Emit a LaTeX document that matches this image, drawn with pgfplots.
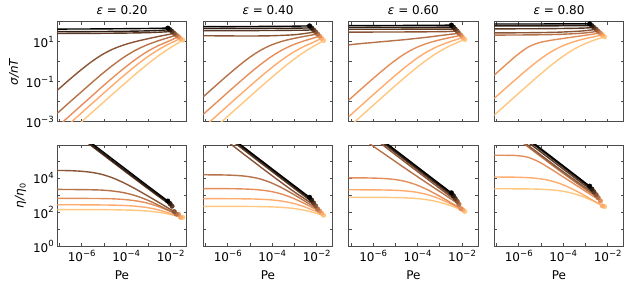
\documentclass[border=0pt]{standalone}
\usepackage{fontspec}
\setmainfont{DejaVu Sans}
\usepackage{pgfplots}
\pgfplotsset{compat=1.18}
\definecolor{cp0}{rgb}{0,0,0}
\definecolor{cp1}{rgb}{0.179,0.112,0.071}
\definecolor{cp2}{rgb}{0.357,0.223,0.142}
\definecolor{cp3}{rgb}{0.536,0.335,0.213}
\definecolor{cp4}{rgb}{0.714,0.446,0.284}
\definecolor{cp5}{rgb}{0.893,0.558,0.355}
\definecolor{cp6}{rgb}{1.0,0.670,0.426}
\definecolor{cp7}{rgb}{1.0,0.781,0.4975}
\newcommand\tp[1]{10\raisebox{0.45em}{\fontsize{8.5}{9}\selectfont #1}}
\newcommand\C[3]{\addplot[cp#1, line width=1.4pt, smooth] coordinates {#2};
  \addplot[cp#1, only marks, mark=*, mark size=2.3pt] coordinates {#3};}
\pgfplotsset{
 panel/.style={scale only axis, width=129.4pt, xmin=-7.1, xmax=-1.28,
   xtick={-7,-6,-5,-4,-3,-2}, tick align=inside, major tick length=3pt,
   axis line style={black!70, line width=0.8pt}, tick style={black!70, line width=0.8pt},
   ticklabel style={font=\fontsize{12}{14}\selectfont},
   label style={font=\fontsize{12}{14}\selectfont},
   xlabel style={yshift=-1.5pt},
   title style={font=\fontsize{12}{14}\selectfont, yshift=-2.5pt}},
 toprow/.style={panel, height=100pt, ymin=-3, ymax=2, ytick={-3,-2,-1,0,1,2},
   xticklabels={}, yticklabels={}},
 botrow/.style={panel, height=101.5pt, ymin=0, ymax=5.94, ytick={0,1,2,3,4,5},
   xticklabels={,\tp{−6},,\tp{−4},,\tp{−2}}, yticklabels={}, xlabel={Pe}},
}
\begin{document}
\begin{tikzpicture}
\useasboundingbox (0,0) rectangle (627pt,288pt);
% ---------------- panel 1 top
\begin{axis}[toprow, at={(57.3pt,166.3pt)}, anchor=south west, title={\textit{ε} = 0.20},
  yticklabels={\tp{−3},,\tp{−1},,\tp{1},}, ylabel={\textit{σ/nT}}]
\C{7}{(-7.1,-4.1) (-6.6,-3.6) (-6.1,-3.1) (-5.6,-2.60) (-5.1,-2.105) (-4.6,-1.61) (-4.1,-1.124) (-3.6,-0.64) (-3.1,-0.178) (-2.6,0.254) (-2.1,0.64) (-1.8,0.847) (-1.46,1.08)}{(-1.46,1.08)}
\C{6}{(-7.1,-3.65) (-6.6,-3.15) (-6.1,-2.65) (-5.6,-2.154) (-5.1,-1.66) (-4.6,-1.168) (-4.1,-0.688) (-3.6,-0.228) (-3.1,0.196) (-2.6,0.566) (-2.1,0.875) (-1.56,1.16)}{(-1.56,1.16)}
\C{5}{(-7.1,-3.26) (-6.6,-2.76) (-6.1,-2.263) (-5.6,-1.77) (-5.1,-1.27) (-4.6,-0.79) (-4.1,-0.33) (-3.6,0.10) (-3.1,0.475) (-2.6,0.78) (-2.1,1.02) (-1.65,1.25)}{(-1.65,1.25)}
\C{4}{(-7.1,-2.58) (-6.6,-2.08) (-6.1,-1.59) (-5.6,-1.10) (-5.1,-0.62) (-4.6,-0.175) (-4.1,0.226) (-3.6,0.562) (-3.1,0.825) (-2.6,1.03) (-2.1,1.205) (-1.75,1.33)}{(-1.75,1.33)}
\C{3}{(-7.1,-1.43) (-6.6,-0.94) (-6.1,-0.47) (-5.6,-0.034) (-5.1,0.34) (-4.6,0.63) (-4.1,0.84) (-3.6,1.0) (-3.1,1.13) (-2.6,1.25) (-2.1,1.36) (-1.84,1.42)}{(-1.84,1.42)}
\C{2}{(-7.1,1.41) (-6.1,1.415) (-5.1,1.42) (-4.1,1.43) (-3.1,1.45) (-2.6,1.47) (-1.94,1.51)}{(-1.94,1.51)}
\C{1}{(-7.1,1.50) (-6.1,1.505) (-5.1,1.51) (-4.1,1.52) (-3.1,1.54) (-2.6,1.56) (-2.03,1.60)}{(-2.03,1.60)}
\C{0}{(-7.1,1.63) (-6.1,1.635) (-5.1,1.64) (-4.1,1.65) (-3.1,1.66) (-2.6,1.67) (-2.13,1.68)}{(-2.13,1.68)}
\end{axis}
% ---------------- panel 1 bottom
\begin{axis}[botrow, at={(57.3pt,41.5pt)}, anchor=south west,
  yticklabels={\tp{0},,\tp{2},,\tp{4},}, ylabel={\textit{η/η}\textsubscript{0}}]
\C{7}{(-7.1,2.16) (-6.1,2.16) (-5.6,2.16) (-5.1,2.155) (-4.6,2.15) (-4.1,2.136) (-3.6,2.12) (-3.1,2.08) (-2.6,2.01) (-2.1,1.90) (-1.8,1.81) (-1.46,1.70)}{(-1.46,1.70)}
\C{6}{(-7.1,2.44) (-6.1,2.44) (-5.6,2.436) (-5.1,2.43) (-4.6,2.42) (-4.1,2.40) (-3.6,2.36) (-3.1,2.286) (-2.6,2.156) (-2.1,1.965) (-1.56,1.71)}{(-1.56,1.71)}
\C{5}{(-7.1,2.82) (-6.1,2.817) (-5.6,2.81) (-5.1,2.805) (-4.6,2.79) (-4.1,2.75) (-3.6,2.68) (-3.1,2.555) (-2.6,2.36) (-2.1,2.10) (-1.65,1.88)}{(-1.65,1.88)}
\C{4}{(-7.1,3.34) (-6.1,3.33) (-5.6,3.32) (-5.1,3.30) (-4.6,3.245) (-4.1,3.146) (-3.6,2.98) (-3.1,2.745) (-2.6,2.45) (-2.1,2.125) (-1.75,1.90)}{(-1.75,1.90)}
\C{3}{(-7.1,4.45) (-6.6,4.44) (-6.1,4.41) (-5.6,4.346) (-5.1,4.22) (-4.6,4.01) (-4.1,3.72) (-3.6,3.38) (-3.1,3.01) (-2.6,2.63) (-2.1,2.24) (-1.84,2.04)}{(-1.84,2.04)}
\C{2}{(-7.1,7.42) (-6.1,6.425) (-5.1,5.43) (-4.1,4.44) (-3.1,3.46) (-2.6,2.98) (-1.94,2.36)}{(-1.94,2.36)}
\C{1}{(-7.1,7.48) (-6.1,6.485) (-5.1,5.49) (-4.1,4.50) (-3.1,3.52) (-2.6,3.04) (-2.03,2.51)}{(-2.03,2.51)}
\C{0}{(-7.1,7.58) (-6.1,6.585) (-5.1,5.59) (-4.1,4.60) (-3.1,3.61) (-2.6,3.12) (-2.13,2.66)}{(-2.13,2.66)}
\end{axis}
% ---------------- panel 2 top
\begin{axis}[toprow, at={(203.3pt,166.3pt)}, anchor=south west, title={\textit{ε} = 0.40}]
\C{7}{(-6.6,-3.33) (-6.1,-2.83) (-5.6,-2.333) (-5.1,-1.837) (-4.6,-1.344) (-4.1,-0.859) (-3.6,-0.388) (-3.1,0.055) (-2.6,0.454) (-2.2,0.733) (-1.9,0.918) (-1.69,1.06)}{(-1.69,1.06)}
\C{6}{(-7.1,-3.3) (-6.6,-2.80) (-6.1,-2.303) (-5.6,-1.806) (-5.1,-1.314) (-4.6,-0.831) (-4.1,-0.367) (-3.6,0.062) (-3.1,0.439) (-2.6,0.746) (-2.2,0.945) (-1.78,1.17)}{(-1.78,1.17)}
\C{5}{(-7.1,-2.63) (-6.6,-2.132) (-6.1,-1.636) (-5.6,-1.144) (-5.1,-0.663) (-4.6,-0.205) (-4.1,0.21) (-3.6,0.557) (-3.1,0.826) (-2.6,1.029) (-2.2,1.162) (-1.87,1.28)}{(-1.87,1.28)}
\C{4}{(-7.1,-1.753) (-6.6,-1.257) (-6.1,-0.767) (-5.6,-0.293) (-5.1,0.146) (-4.6,0.522) (-4.1,0.806) (-3.6,1.005) (-3.1,1.145) (-2.6,1.256) (-1.96,1.385)}{(-1.96,1.385)}
\C{3}{(-7.1,1.30) (-6.1,1.29) (-5.1,1.285) (-4.1,1.295) (-3.1,1.34) (-2.6,1.40) (-2.05,1.49)}{(-2.05,1.49)}
\C{2}{(-7.1,1.55) (-6.1,1.552) (-5.1,1.555) (-4.1,1.56) (-3.1,1.57) (-2.6,1.575) (-2.14,1.59)}{(-2.14,1.59)}
\C{1}{(-7.1,1.66) (-6.1,1.663) (-5.1,1.666) (-4.1,1.67) (-3.1,1.675) (-2.23,1.69)}{(-2.23,1.69)}
\C{0}{(-7.1,1.75) (-6.1,1.755) (-5.1,1.76) (-4.1,1.765) (-3.1,1.775) (-2.32,1.79)}{(-2.32,1.79)}
\end{axis}
% ---------------- panel 2 bottom
\begin{axis}[botrow, at={(203.3pt,41.5pt)}, anchor=south west]
\C{7}{(-7.1,2.35) (-6.1,2.35) (-5.6,2.347) (-5.1,2.343) (-4.6,2.336) (-4.1,2.321) (-3.6,2.292) (-3.1,2.235) (-2.6,2.134) (-2.2,2.013) (-1.9,1.898) (-1.69,1.83)}{(-1.69,1.83)}
\C{6}{(-7.1,2.8) (-6.1,2.797) (-5.6,2.794) (-5.1,2.786) (-4.6,2.769) (-4.1,2.733) (-3.6,2.662) (-3.1,2.539) (-2.6,2.346) (-2.2,2.145) (-1.78,1.95)}{(-1.78,1.95)}
\C{5}{(-7.1,3.39) (-6.1,3.384) (-5.6,3.376) (-5.1,3.357) (-4.6,3.315) (-4.1,3.23) (-3.6,3.077) (-3.1,2.846) (-2.6,2.549) (-2.2,2.282) (-1.87,2.07)}{(-1.87,2.07)}
\C{4}{(-7.1,4.197) (-6.6,4.193) (-6.1,4.183) (-5.6,4.157) (-5.1,4.096) (-4.6,3.972) (-4.1,3.756) (-3.6,3.455) (-3.1,3.095) (-2.6,2.706) (-1.96,2.195)}{(-1.96,2.195)}
\C{3}{(-7.1,7.24) (-6.1,6.23) (-5.1,5.225) (-4.1,4.235) (-3.1,3.28) (-2.6,2.84) (-2.05,2.38)}{(-2.05,2.38)}
\C{2}{(-7.1,7.47) (-6.1,6.472) (-5.1,5.475) (-4.1,4.48) (-3.1,3.49) (-2.6,2.995) (-2.14,2.55)}{(-2.14,2.55)}
\C{1}{(-7.1,7.56) (-6.1,6.563) (-5.1,5.566) (-4.1,4.57) (-3.1,3.575) (-2.23,2.72)}{(-2.23,2.72)}
\C{0}{(-7.1,7.62) (-6.1,6.625) (-5.1,5.63) (-4.1,4.635) (-3.1,3.645) (-2.32,2.88)}{(-2.32,2.88)}
\end{axis}
% ---------------- panel 3 top
\begin{axis}[toprow, at={(348.7pt,166.3pt)}, anchor=south west, title={\textit{ε} = 0.60}]
\C{7}{(-7.1,-3.28) (-6.6,-2.78) (-6.1,-2.283) (-5.6,-1.786) (-5.1,-1.294) (-4.6,-0.811) (-4.1,-0.347) (-3.6,0.082) (-3.1,0.457) (-2.6,0.767) (-2.2,0.966) (-1.88,1.11)}{(-1.88,1.11)}
\C{6}{(-7.1,-2.75) (-6.6,-2.252) (-6.1,-1.755) (-5.6,-1.262) (-5.1,-0.777) (-4.6,-0.313) (-4.1,0.115) (-3.6,0.479) (-3.1,0.764) (-2.6,0.98) (-2.3,1.09) (-1.97,1.21)}{(-1.97,1.21)}
\C{5}{(-7.1,-1.923) (-6.6,-1.426) (-6.1,-0.936) (-5.6,-0.459) (-5.1,-0.011) (-4.6,0.379) (-4.1,0.686) (-3.6,0.906) (-3.1,1.066) (-2.6,1.192) (-2.05,1.32)}{(-2.05,1.32)}
\C{4}{(-7.1,0.84) (-6.6,0.90) (-6.1,0.95) (-5.6,1.0) (-5.1,1.05) (-4.6,1.10) (-4.1,1.16) (-3.6,1.22) (-3.1,1.29) (-2.6,1.36) (-2.14,1.42)}{(-2.14,1.42)}
\C{3}{(-7.1,1.48) (-6.1,1.482) (-5.1,1.485) (-4.1,1.49) (-3.1,1.50) (-2.6,1.51) (-2.22,1.53)}{(-2.22,1.53)}
\C{2}{(-7.1,1.62) (-6.1,1.622) (-5.1,1.624) (-4.1,1.626) (-3.1,1.628) (-2.31,1.63)}{(-2.31,1.63)}
\C{1}{(-7.1,1.71) (-6.1,1.713) (-5.1,1.716) (-4.1,1.72) (-3.1,1.725) (-2.39,1.73)}{(-2.39,1.73)}
\C{0}{(-7.1,1.80) (-6.1,1.805) (-5.1,1.81) (-4.1,1.815) (-3.1,1.82) (-2.48,1.83)}{(-2.48,1.83)}
\end{axis}
% ---------------- panel 3 bottom
\begin{axis}[botrow, at={(348.7pt,41.5pt)}, anchor=south west]
\C{7}{(-7.1,2.88) (-6.1,2.877) (-5.6,2.874) (-5.1,2.866) (-4.6,2.849) (-4.1,2.813) (-3.6,2.742) (-3.1,2.617) (-2.6,2.427) (-2.2,2.226) (-1.88,2.05)}{(-1.88,2.05)}
\C{6}{(-7.1,3.32) (-6.1,3.315) (-5.6,3.308) (-5.1,3.293) (-4.6,3.257) (-4.1,3.185) (-3.6,3.049) (-3.1,2.834) (-2.6,2.55) (-2.3,2.36) (-1.97,2.15)}{(-1.97,2.15)}
\C{5}{(-7.1,4.02) (-6.6,4.017) (-6.1,4.007) (-5.6,3.984) (-5.1,3.932) (-4.6,3.822) (-4.1,3.629) (-3.6,3.349) (-3.1,3.009) (-2.6,2.635) (-2.05,2.213)}{(-2.05,2.213)}
\C{4}{(-7.1,6.85) (-6.6,6.41) (-6.1,5.96) (-5.6,5.51) (-5.1,5.06) (-4.6,4.61) (-4.1,4.17) (-3.6,3.73) (-3.1,3.30) (-2.6,2.87) (-2.14,2.47)}{(-2.14,2.47)}
\C{3}{(-7.1,7.47) (-6.1,6.472) (-5.1,5.475) (-4.1,4.48) (-3.1,3.49) (-2.6,3.0) (-2.22,2.64)}{(-2.22,2.64)}
\C{2}{(-7.1,7.59) (-6.1,6.592) (-5.1,5.594) (-4.1,4.596) (-3.1,3.598) (-2.31,2.81)}{(-2.31,2.81)}
\C{1}{(-7.1,7.66) (-6.1,6.663) (-5.1,5.666) (-4.1,4.67) (-3.1,3.675) (-2.39,2.97)}{(-2.39,2.97)}
\C{0}{(-7.1,7.73) (-6.1,6.735) (-5.1,5.74) (-4.1,4.745) (-3.1,3.75) (-2.48,3.14)}{(-2.48,3.14)}
\end{axis}
% ---------------- panel 4 top
\begin{axis}[toprow, at={(494.3pt,166.3pt)}, anchor=south west, title={\textit{ε} = 0.80}]
\C{7}{(-7.1,-2.67) (-6.6,-2.172) (-6.1,-1.675) (-5.6,-1.181) (-5.1,-0.696) (-4.6,-0.229) (-4.1,0.20) (-3.6,0.57) (-3.1,0.86) (-2.6,1.08) (-2.14,1.24)}{(-2.14,1.24)}
\C{6}{(-7.1,-1.833) (-6.6,-1.337) (-6.1,-0.847) (-5.6,-0.371) (-5.1,0.073) (-4.6,0.458) (-4.1,0.756) (-3.6,0.971) (-3.1,1.127) (-2.6,1.251) (-2.24,1.34)}{(-2.24,1.34)}
\C{5}{(-7.1,-0.67) (-6.6,-0.173) (-6.1,0.309) (-5.6,0.715) (-5.1,0.946) (-4.6,1.061) (-4.1,1.146) (-3.6,1.227) (-3.1,1.307) (-2.7,1.371) (-2.33,1.43)}{(-2.33,1.43)}
\C{4}{(-7.1,1.33) (-6.1,1.335) (-5.1,1.345) (-4.1,1.37) (-3.1,1.43) (-2.43,1.52)}{(-2.43,1.52)}
\C{3}{(-7.1,1.44) (-6.1,1.445) (-5.1,1.455) (-4.1,1.48) (-3.1,1.54) (-2.52,1.62)}{(-2.52,1.62)}
\C{2}{(-7.1,1.64) (-6.1,1.645) (-5.1,1.65) (-4.1,1.66) (-3.1,1.68) (-2.62,1.71)}{(-2.62,1.71)}
\C{1}{(-7.1,1.79) (-6.1,1.791) (-5.1,1.793) (-4.1,1.795) (-3.1,1.798) (-2.71,1.80)}{(-2.71,1.80)}
\C{0}{(-7.1,1.885) (-6.1,1.886) (-5.1,1.887) (-4.1,1.888) (-3.1,1.889) (-2.81,1.89)}{(-2.81,1.89)}
\end{axis}
% ---------------- panel 4 bottom
\begin{axis}[botrow, at={(494.3pt,41.5pt)}, anchor=south west]
\C{7}{(-7.1,3.38) (-6.1,3.375) (-5.6,3.369) (-5.1,3.354) (-4.6,3.321) (-4.1,3.25) (-3.6,3.12) (-3.1,2.91) (-2.6,2.63) (-2.14,2.33)}{(-2.14,2.33)}
\C{6}{(-7.1,4.067) (-6.1,4.053) (-5.6,4.029) (-5.1,3.973) (-4.6,3.858) (-4.1,3.656) (-3.6,3.371) (-3.1,3.027) (-2.6,2.651) (-2.24,2.38)}{(-2.24,2.38)}
\C{5}{(-7.1,5.34) (-6.6,5.337) (-6.1,5.319) (-5.6,5.225) (-5.1,4.956) (-4.6,4.571) (-4.1,4.156) (-3.6,3.737) (-3.1,3.317) (-2.7,2.981) (-2.33,2.67)}{(-2.33,2.67)}
\C{4}{(-7.1,7.34) (-6.1,6.345) (-5.1,5.355) (-4.1,4.38) (-3.1,3.44) (-2.43,2.86)}{(-2.43,2.86)}
\C{3}{(-7.1,7.43) (-6.1,6.435) (-5.1,5.445) (-4.1,4.47) (-3.1,3.53) (-2.52,3.03)}{(-2.52,3.03)}
\C{2}{(-7.1,7.61) (-6.1,6.615) (-5.1,5.62) (-4.1,4.63) (-3.1,3.65) (-2.62,3.20)}{(-2.62,3.20)}
\C{1}{(-7.1,7.74) (-6.1,6.741) (-5.1,5.743) (-4.1,4.745) (-3.1,3.748) (-2.71,3.36)}{(-2.71,3.36)}
\C{0}{(-7.1,7.815) (-6.1,6.816) (-5.1,5.817) (-4.1,4.818) (-3.1,3.819) (-2.81,3.53)}{(-2.81,3.53)}
\end{axis}
\end{tikzpicture}
\end{document}
